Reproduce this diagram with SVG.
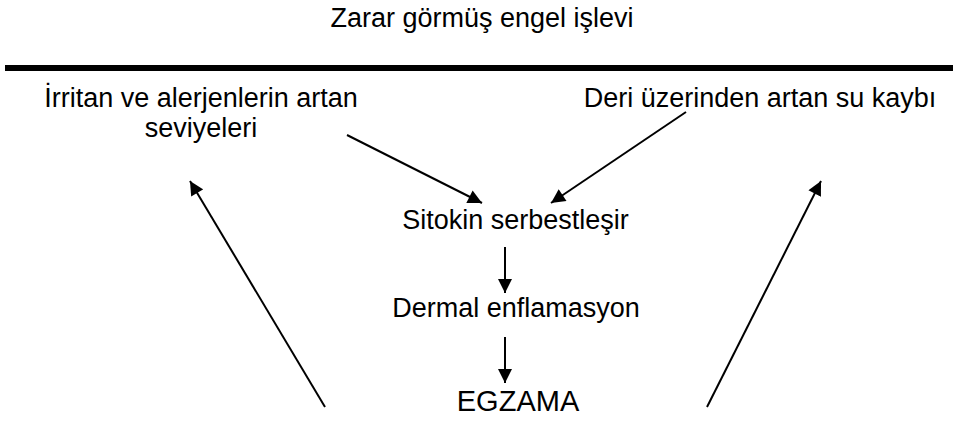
<svg xmlns="http://www.w3.org/2000/svg" width="953" height="421" viewBox="0 0 953 421">
  <style>
    text { font-family: "Liberation Sans", Arial, sans-serif; font-size: 27px; fill: #000; text-anchor: middle; }
    .big { font-size: 29px; }
    .edge { stroke: #000; stroke-width: 2; fill: none; marker-end: url(#head); }
  </style>
  <defs>
    <marker id="head" viewBox="0 0 10 10" refX="10" refY="5" markerWidth="7.5" markerHeight="7" markerUnits="strokeWidth" orient="auto">
      <path d="M0,0 L10,5 L0,10 Z" fill="#000"/>
    </marker>
  </defs>
  <rect width="953" height="421" fill="#fff"/>

  <g id="title">
    <text x="482" y="27">Zarar görmüş engel işlevi</text>
  </g>
  <rect id="barrier" x="5" y="65" width="948" height="6" fill="#000"/>

  <g id="irritants">
    <text x="201" y="107">İrritan ve alerjenlerin artan</text>
    <text x="201" y="137">seviyeleri</text>
  </g>
  <g id="water-loss">
    <text x="760" y="107">Deri üzerinden artan su kaybı</text>
  </g>
  <g id="cytokine">
    <text x="515.5" y="229">Sitokin serbestleşir</text>
  </g>
  <g id="inflammation">
    <text x="516" y="317">Dermal enflamasyon</text>
  </g>
  <g id="eczema">
    <text class="big" x="518" y="411">EGZAMA</text>
  </g>

  <g id="connectors">
    <line class="edge" x1="347" y1="135" x2="482" y2="203"/>
    <line class="edge" x1="686" y1="112" x2="551" y2="203"/>
    <line class="edge" x1="505" y1="247" x2="505" y2="293"/>
    <line class="edge" x1="505" y1="337" x2="505" y2="383"/>
    <line class="edge" x1="325" y1="407" x2="190" y2="181"/>
    <line class="edge" x1="707" y1="407" x2="821" y2="181"/>
  </g>
</svg>
